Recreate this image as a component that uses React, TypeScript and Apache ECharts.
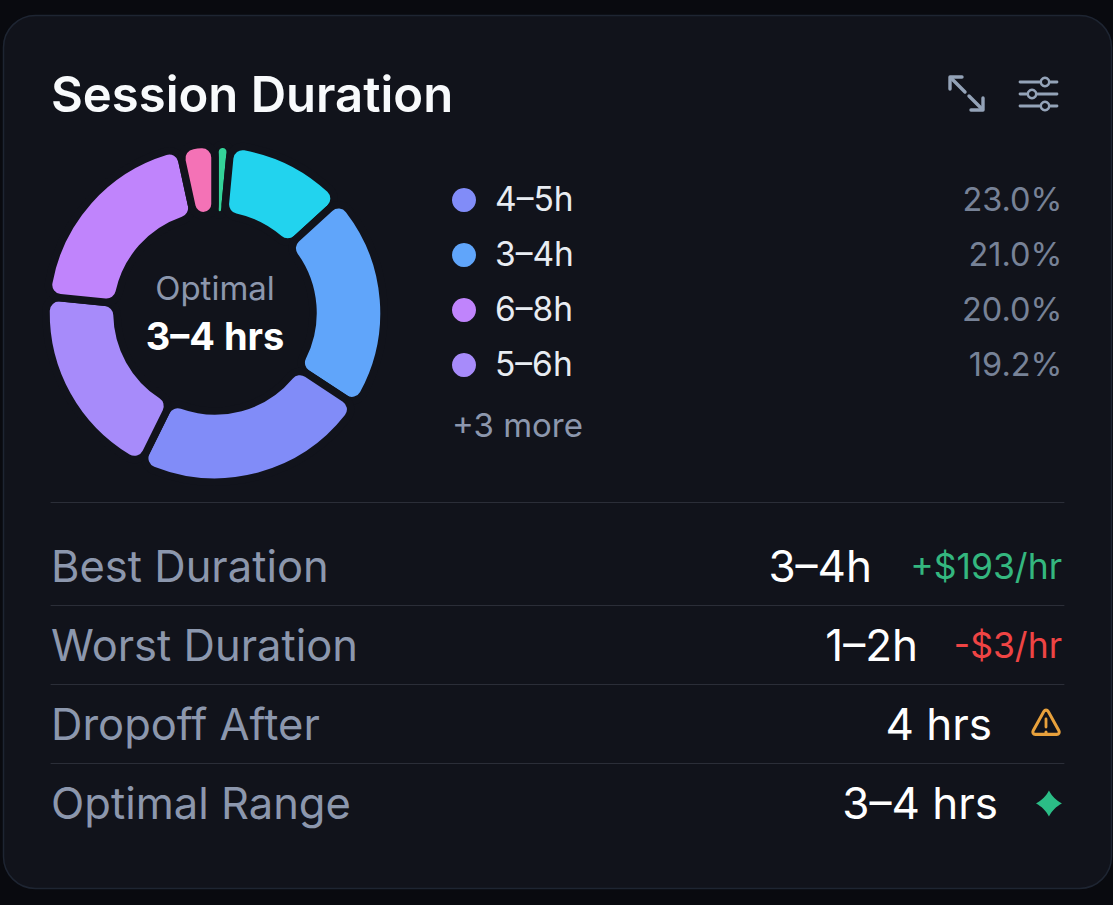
import React, { useEffect, useRef } from "react";
import * as echarts from "echarts";

const sliceNames = ["<1h", "1–2h", "3–4h", "4–5h", "5–6h", "6–8h", "8h+"];
const sliceValues = [1.5, 11.7, 21.0, 23.0, 19.2, 20.0, 3.4];
const sliceColors = ["#34d399", "#22d3ee", "#60a5fa", "#818cf8", "#a78bfa", "#c084fc", "#f472b6"];

const legendNames = ["4–5h", "3–4h", "6–8h", "5–6h"];
const legendValues = ["23.0%", "21.0%", "20.0%", "19.2%"];
const legendColors = ["#818cf8", "#60a5fa", "#c084fc", "#a78bfa"];

const rowLabels = ["Best Duration", "Worst Duration", "Dropoff After", "Optimal Range"];
const rowValues = ["3–4h", "1–2h", "4 hrs", "3–4 hrs"];
const rowNotes = ["+$193/hr", "-$3/hr", "", ""];

const FONT = "Inter, 'Noto Sans', sans-serif";
const BG = "#11131b";
const MUTED = "#8c97ad";

echarts.graphic.registerShape(
  "sparkle",
  echarts.graphic.extendPath(
    "M12 0C14.5 5 19 9.5 24 12C19 14.5 14.5 19 12 24C9.5 19 5 14.5 0 12C5 9.5 9.5 5 12 0Z",
    {}
  )
);
echarts.graphic.registerShape(
  "warn",
  echarts.graphic.extendPath(
    "M12 2.5C12.8 2.5 13.4 2.9 13.9 3.7L23 19.5C23.8 21 22.9 22.5 21.2 22.5H2.8C1.1 22.5 .2 21 1 19.5L10.1 3.7C10.6 2.9 11.2 2.5 12 2.5Z",
    {}
  )
);

function text(x: number, y: number, t: string, size: number, fill: string, align = "left", weight: number | string = 400) {
  return {
    type: "text",
    x,
    y,
    style: { text: t, fontSize: size, fill, align, verticalAlign: "middle", fontFamily: FONT, fontWeight: weight },
  };
}

function line(x1: number, y1: number, x2: number, y2: number, stroke: string, lineWidth: number) {
  return { type: "line", shape: { x1, y1, x2, y2 }, style: { stroke, lineWidth, lineCap: "round" } };
}

function poly(points: number[][], stroke: string, lineWidth: number) {
  return {
    type: "polyline",
    shape: { points },
    style: { stroke, lineWidth, fill: "none", lineCap: "round", lineJoin: "round" },
  };
}

function knob(cx: number, cy: number) {
  return { type: "circle", shape: { cx, cy, r: 4.2 }, style: { fill: BG, stroke: "#94a3b8", lineWidth: 2.4 } };
}

export default function App() {
  const ref = useRef<HTMLDivElement>(null);
  useEffect(() => {
    const chart = echarts.init(ref.current!, undefined, { renderer: "svg" });
    const rowY = [566, 645, 724, 803];
    const ruleY = [502, 605, 684, 763];
    const valueRight = [872, 918, 992, 998];
    const graphic: any[] = [
      {
        type: "rect",
        z: -10,
        shape: { x: 3.5, y: 15.5, width: 1108, height: 873, r: 32 },
        style: { fill: BG, stroke: "#1e2532", lineWidth: 1.5 },
      },
      text(51, 94, "Session Duration", 49, "#f8fafc", "left", 600),
      poly([[950, 89], [950, 77], [962, 77]], "#94a3b8", 3.4),
      line(951, 78, 965, 92, "#94a3b8", 3.4),
      poly([[983, 98], [983, 110], [971, 110]], "#94a3b8", 3.4),
      line(982, 109, 969, 96, "#94a3b8", 3.4),
      line(1020, 82, 1057, 82, "#94a3b8", 2.8),
      line(1020, 94, 1057, 94, "#94a3b8", 2.8),
      line(1020, 106, 1057, 106, "#94a3b8", 2.8),
      knob(1045, 82),
      knob(1032, 94),
      knob(1045, 106),
      text(215, 288, "Optimal", 33, MUTED, "center"),
      text(215, 336, "3–4 hrs", 38, "#ffffff", "center", 700),
      text(452, 425, "+3 more", 33, MUTED),
      ...ruleY.map((y) => line(51, y + 0.5, 1064, y + 0.5, "#2b2e38", 1)),
      ...rowLabels.map((t, i) => text(51, rowY[i], t, 43.5, MUTED)),
      ...rowValues.map((t, i) => text(valueRight[i], rowY[i], t, 44, "#ffffff", "right")),
      text(1062, rowY[0], rowNotes[0], 35.5, "#34b77f", "right"),
      text(1062, rowY[1], rowNotes[1], 35.5, "#ef4444", "right"),
      {
        type: "warn",
        x: 1032,
        y: 707,
        scaleX: 1.17,
        scaleY: 1.22,
        style: { fill: "none", stroke: "#e8a13c", lineWidth: 2.6 },
      },
      line(1046, 719, 1046, 727, "#e8a13c", 2.8),
      line(1046, 732, 1046, 732.2, "#e8a13c", 3),
      { type: "sparkle", x: 1036, y: 790.5, scaleX: 1.08, scaleY: 1.08, style: { fill: "#2bbd86" } },
      ...legendNames.flatMap((name, i) => {
        const y = 200 + i * 55;
        return [
          { type: "circle", shape: { cx: 464, cy: y, r: 12 }, style: { fill: legendColors[i] } },
          text(495, y - 1, name, 33.5, "#e8ecf2"),
          text(1062.5, y - 1, legendValues[i], 32.5, "#778297", "right"),
        ];
      }),
    ];
    chart.setOption({
      animation: false,
      backgroundColor: "#090a0f",
      graphic: { elements: graphic },
      series: [
        {
          type: "pie",
          silent: true,
          center: [215, 313],
          radius: [98, 169],
          startAngle: 90,
          clockwise: true,
          label: { show: false },
          labelLine: { show: false },
          itemStyle: { borderRadius: 13, borderColor: BG, borderWidth: 7.5 },
          data: sliceNames.map((name, i) => ({
            name,
            value: sliceValues[i],
            itemStyle: { color: sliceColors[i] },
          })),
        },
      ],
    });
    return () => chart.dispose();
  }, []);
  return <div ref={ref} style={{ position: "fixed", left: 0, top: 0, width: 1113, height: 905 }} />;
}
